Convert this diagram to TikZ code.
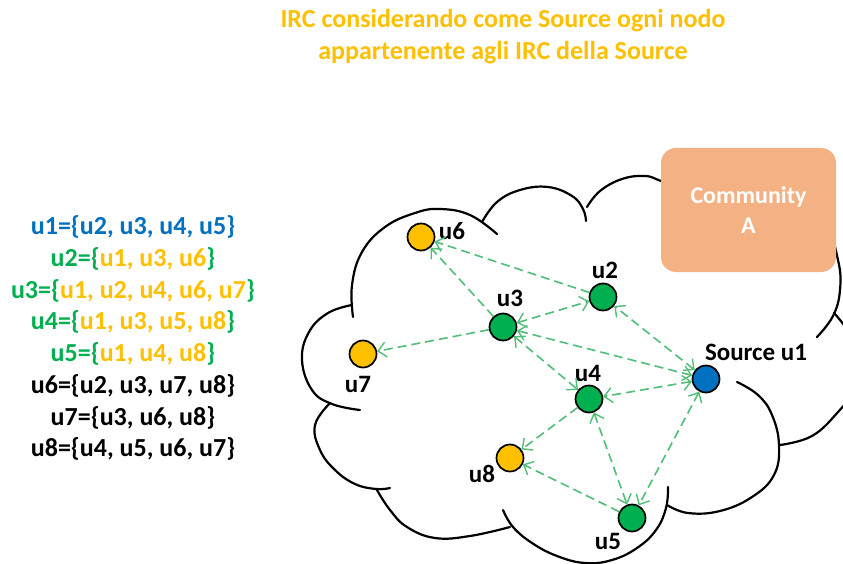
\documentclass[tikz,border=0pt]{standalone}
\usepackage{fontspec}
\setmainfont{Carlito}
\usetikzlibrary{arrows.meta}
\definecolor{irblue}{HTML}{0070C0}
\definecolor{irgreen}{HTML}{00B050}
\definecolor{irgold}{HTML}{FFC000}
\definecolor{edgegreen}{RGB}{80,190,120}
\definecolor{boxorange}{HTML}{F4B183}
\begin{document}
\begin{tikzpicture}[x=1pt,y=-1pt,
  vert/.style={circle,draw=black,line width=1.7pt,minimum size=27pt,inner sep=0pt},
  lbl/.style={font=\fontsize{25}{30}\selectfont\bfseries,inner sep=0pt},
  listline/.style={font=\fontsize{26}{31}\selectfont\bfseries,inner sep=0pt},
  link/.style={draw=edgegreen,line width=1.6pt,dash pattern=on 9pt off 5pt},
  uni/.style={link,-{Straight Barb[length=8pt,width=15pt,line width=1.4pt]}},
  bi/.style={link,{Straight Barb[length=8pt,width=15pt,line width=1.4pt]}-{Straight Barb[length=8pt,width=15pt,line width=1.4pt]}},
  cloudline/.style={draw=black,line width=2.2pt,line cap=round}]

\useasboundingbox (0,0) rectangle (843,564);
\fill[white] (0,0) rectangle (843,564);
\clip (0,0) rectangle (843,564);

% title
\node[font=\fontsize{26}{32}\selectfont\bfseries,text=irgold,align=center,inner sep=0pt]
  (title) at (503,37) {IRC considerando come Source ogni nodo\\appartenente agli IRC della Source};

% adjacency lists
\node[listline,text=irblue] (l1) at (133,227) {u1=\{u2, u3, u4, u5\}};
\node[listline] (l2) at (133,259) {\textcolor{irgreen}{u2=\{}\textcolor{irgold}{u1, u3, u6}\textcolor{irgreen}{\}}};
\node[listline] (l3) at (133,291) {\textcolor{irgreen}{u3=\{}\textcolor{irgold}{u1, u2, u4, u6, u7}\textcolor{irgreen}{\}}};
\node[listline] (l4) at (133,322) {\textcolor{irgreen}{u4=\{}\textcolor{irgold}{u1, u3, u5, u8}\textcolor{irgreen}{\}}};
\node[listline] (l5) at (133,354) {\textcolor{irgreen}{u5=\{}\textcolor{irgold}{u1, u4, u8}\textcolor{irgreen}{\}}};
\node[listline] (l6) at (133,386) {u6=\{u2, u3, u7, u8\}};
\node[listline] (l7) at (133,418) {u7=\{u3, u6, u8\}};
\node[listline] (l8) at (133,449) {u8=\{u4, u5, u6, u7\}};

% cloud outline, one lobe at a time
\draw[cloudline] plot[smooth,tension=0.7] coordinates {(353,317) (352,285) (362,252) (385,227) (415,213) (440,209) (470,215) (497,234)};
\draw[cloudline] plot[smooth,tension=0.7] coordinates {(482,222) (497,202) (520,190) (548,187) (572,196) (583,209) (586,221)};
\draw[cloudline] plot[smooth,tension=0.7] coordinates {(587,207) (600,191) (622,179) (645,176) (661,181) (690,192)};
\draw[cloudline] plot[smooth,tension=0.7] coordinates {(790,190) (825,225) (838,260) (840,290) (833,316) (817,337)};
\draw[cloudline] plot[smooth,tension=0.7] coordinates {(834,313) (850,335) (858,365) (852,392) (838,412) (812,436) (780,445)};
\draw[cloudline] plot[smooth,tension=0.7] coordinates {(737,382) (758,395) (772,415) (779,445) (774,475) (752,497) (720,511) (688,513) (667,505)};
\draw[cloudline] plot[smooth,tension=0.7] coordinates {(668,487) (666,508) (656,530) (637,548) (612,560) (585,563) (557,556) (532,543) (513,527) (503,510)};
\draw[cloudline] plot[smooth,tension=0.7] coordinates {(377,490) (390,510) (407,527) (435,538) (470,536) (510,527)};
\draw[cloudline] plot[smooth,tension=0.7] coordinates {(390,488) (376,489) (355,484) (335,470) (320,450) (315,425) (330,403)};
\draw[cloudline] plot[smooth,tension=0.7] coordinates {(360,410) (332,404) (312,390) (302,360) (309,332) (328,313) (352,305)};

% community box
\node[fill=boxorange,rounded corners=15pt,minimum width=175pt,minimum height=124pt,
  text=white,font=\fontsize{24}{30}\selectfont\bfseries,align=center,inner sep=0pt]
  (comm) at (748.5,210) {Community\\A};

% vertices
\node[vert,fill=irblue]  (u1) at (706,379) {};
\node[vert,fill=irgreen] (u2) at (603,297) {};
\node[vert,fill=irgreen] (u3) at (503,327) {};
\node[vert,fill=irgreen] (u4) at (589,399) {};
\node[vert,fill=irgreen] (u5) at (632,518) {};
\node[vert,fill=irgold]  (u6) at (421,237) {};
\node[vert,fill=irgold]  (u7) at (363,354) {};
\node[vert,fill=irgold]  (u8) at (510,458) {};

% vertex labels
\node[lbl] (t6) at (452,231) {u6};
\node[lbl] (t2) at (605,270) {u2};
\node[lbl] (t3) at (510,298) {u3};
\node[lbl] (t7) at (358,384) {u7};
\node[lbl] (t4) at (588,373) {u4};
\node[lbl] (t1) at (756,352) {Source u1};
\node[lbl] (t8) at (482,474) {u8};
\node[lbl] (t5) at (608,541) {u5};

% IRC links
\draw[uni] (u2) -- (u6);
\draw[uni] (u3) -- (u6);
\draw[uni] (u3) -- (u7);
\draw[bi] (u3) -- (u2);
\draw[bi] (u1) -- (u2);
\draw[bi] (u1) -- (u3);
\draw[bi] (u3) -- (u4);
\draw[bi] (u1) -- (u4);
\draw[uni] (u4) -- (u8);
\draw[bi] (u4) -- (u5);
\draw[bi] (u1) -- (u5);
\draw[uni] (u5) -- (u8);
\end{tikzpicture}
\end{document}
